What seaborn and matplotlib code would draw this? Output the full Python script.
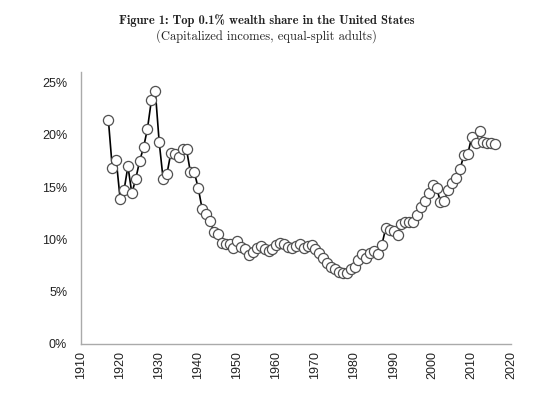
import matplotlib
matplotlib.use("Agg")
import matplotlib.pyplot as plt
import seaborn as sns
import pandas as pd
from matplotlib.ticker import FuncFormatter

years = list(range(1917, 2017))
share = [
    21.4, 16.8, 17.6, 13.9, 14.7, 17.0, 14.4, 15.8, 17.5, 18.8,   # 1917-1926
    20.6, 23.3, 24.2, 19.3, 15.8, 16.3, 18.3, 18.2, 17.9, 18.6,   # 1927-1936
    18.6, 16.4, 16.4, 14.9, 12.9, 12.4, 11.8, 10.7, 10.5, 9.7,    # 1937-1946
    9.55, 9.6, 9.2, 9.8, 9.25, 9.1, 8.5, 8.8, 9.2, 9.4,           # 1947-1956
    9.1, 8.85, 9.1, 9.5, 9.65, 9.6, 9.3, 9.2, 9.4, 9.6,           # 1957-1966
    9.2, 9.4, 9.5, 9.1, 8.7, 8.2, 7.7, 7.4, 7.15, 6.9,            # 1967-1976
    6.75, 6.75, 7.15, 7.4, 8.0, 8.6, 8.2, 8.7, 8.9, 8.6,          # 1977-1986
    9.5, 11.1, 10.9, 10.8, 10.4, 11.5, 11.65, 11.7, 11.7, 12.35,  # 1987-1996
    13.1, 13.7, 14.4, 15.2, 14.9, 13.6, 13.7, 14.75, 15.4, 15.9,  # 1997-2006
    16.7, 18.1, 18.2, 19.8, 19.2, 20.4, 19.3, 19.25, 19.2, 19.1,  # 2007-2016
]
x_ticks = list(range(1910, 2021, 10))
y_ticks = [0, 5, 10, 15, 20, 25]
title_line1 = "Figure 1: Top 0.1% wealth share in the United States"
title_line2 = "(Capitalized incomes, equal-split adults)"

df = pd.DataFrame({"year": years, "share": share})

sns.set_style("white")
plt.rcParams["font.family"] = ["Liberation Sans", "DejaVu Sans"]

fig = plt.figure(figsize=(5.44, 3.94), dpi=100)
ax = fig.add_axes([0.149, 0.127, 0.790, 0.690])

sns.lineplot(data=df, x="year", y="share", ax=ax, color="black", linewidth=1.2,
             marker="o", markersize=7.3, markerfacecolor="white",
             markeredgecolor="#505050", markeredgewidth=0.9)

ax.set_xlim(1910, 2020)
ax.set_ylim(0, 26)
ax.set_xticks(x_ticks)
ax.set_yticks(y_ticks)
ax.yaxis.set_major_formatter(FuncFormatter(lambda v, p: f"{v:.0f}%"))
ax.set_xlabel("")
ax.set_ylabel("")
for lab in ax.get_xticklabels():
    lab.set_rotation(90)
ax.tick_params(axis="both", length=0, labelsize=9, colors="#222222", pad=5)
ax.tick_params(axis="y", pad=10)
for s in ["top", "right"]:
    ax.spines[s].set_visible(False)
for s in ["left", "bottom"]:
    ax.spines[s].set_color("#aaaaaa")
    ax.spines[s].set_linewidth(1.0)

fig.text(0.49, 0.948, title_line1, ha="center", va="center", fontsize=9,
         family=["cmb10", "DejaVu Serif"], color="#222222")
fig.text(0.49, 0.908, title_line2, ha="center", va="center", fontsize=9,
         family=["cmr10", "DejaVu Serif"], color="#222222")

fig.savefig("out.png", dpi=100)
